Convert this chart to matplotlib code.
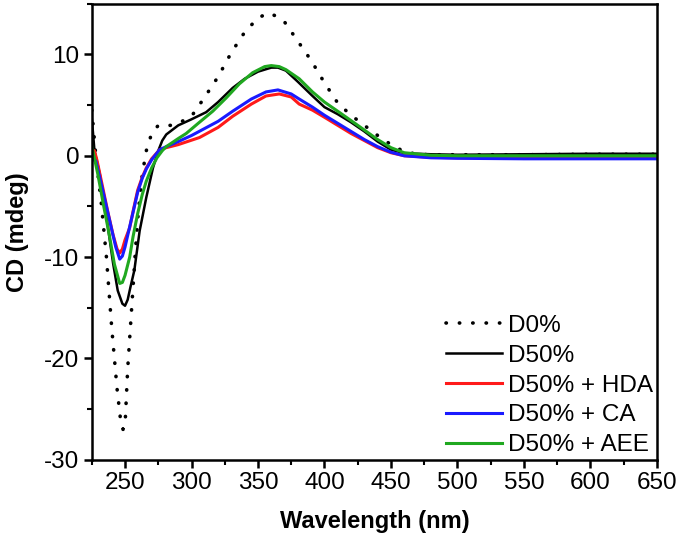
import matplotlib
matplotlib.use("Agg")
import matplotlib.pyplot as plt
from matplotlib.ticker import MultipleLocator

plt.rcParams['font.family'] = ['Liberation Sans', 'DejaVu Sans']
plt.rcParams['axes.unicode_minus'] = False

# D0% (dotted)
wl_d0 = [225, 228, 232, 236, 240, 244, 247, 248.5, 250, 252, 254, 256, 258, 260, 263, 266, 270, 275,
         280, 285, 290, 300, 310, 320, 330, 340, 350, 358, 365, 370, 380, 390, 400, 410, 420, 430,
         440, 450, 460, 470, 480, 500, 550, 600, 650]
cd_d0 = [4.5, 0.0, -4.5, -10.0, -17.0, -23.0, -26.5, -27.0, -26.6, -21.0, -17.0, -13.0, -9.0, -5.5,
         -1.8, 0.5, 2.2, 3.0, 3.0, 3.0, 3.2, 3.9, 5.8, 7.8, 10.2, 12.2, 13.6, 14.1, 13.7, 13.2, 11.3,
         9.4, 7.2, 5.2, 4.0, 3.0, 2.0, 1.1, 0.4, 0.15, 0.1, 0.1, 0.1, 0.15, 0.15]

# D50%
wl_d50 = [225, 227, 231, 236, 241, 244.5, 248, 250, 252, 254, 257, 261, 266, 271, 275, 278, 281, 290,
          300, 311, 320, 331, 340, 350, 360, 365, 371, 380, 391, 400, 410, 420, 430, 440, 450, 460,
          480, 500, 550, 600, 650]
cd_d50 = [3.7, 0.5, -1.8, -6.0, -10.6, -13.3, -14.6, -14.8, -14.2, -13.0, -11.3, -7.4, -4.1, -1.2,
          0.5, 1.5, 2.1, 3.0, 3.6, 4.3, 5.3, 6.7, 7.6, 8.3, 8.7, 8.7, 8.4, 7.3, 5.9, 4.8, 4.1, 3.3,
          2.4, 1.4, 0.6, 0.25, 0.15, 0.1, 0.15, 0.2, 0.2]

# D50% + HDA
wl_hda = [225, 227, 229, 233, 237, 241, 244, 246, 248, 250, 253.5, 256, 259.5, 263, 266, 270, 276,
          281, 290, 306, 320, 331, 345, 356, 366, 375, 381, 391, 400, 410, 420, 430, 440, 450, 460,
          480, 500, 550, 600, 650]
cd_hda = [0.3, 0.5, -0.5, -3.0, -5.5, -7.8, -9.2, -9.6, -9.2, -8.3, -7.1, -5.5, -3.4, -2.1, -1.2,
          -0.3, 0.6, 0.8, 1.1, 1.8, 2.8, 3.9, 5.1, 5.9, 6.1, 5.8, 5.1, 4.5, 3.8, 3.0, 2.2, 1.5, 0.8,
          0.3, 0.0, -0.15, -0.2, -0.2, -0.2, -0.2]

# D50% + CA
wl_ca = [225, 228, 232, 236, 240, 243, 246, 248, 250, 253.5, 256, 259.5, 263, 266, 270, 276, 281,
         290, 300, 310, 320, 331, 345, 356, 365, 375, 381, 391, 400, 410, 420, 430, 440, 450, 460,
         480, 500, 550, 600, 650]
cd_ca = [-0.3, -0.5, -2.7, -5.0, -7.3, -9.0, -10.2, -9.9, -9.0, -7.0, -5.6, -3.6, -2.2, -1.3, -0.4,
         0.6, 0.9, 1.4, 2.0, 2.7, 3.4, 4.4, 5.6, 6.3, 6.5, 6.1, 5.6, 4.8, 4.0, 3.2, 2.4, 1.6, 0.9,
         0.35, 0.0, -0.2, -0.25, -0.3, -0.3, -0.3]

# D50% + AEE
wl_aee = [225, 229.5, 234, 238, 242, 246, 248, 250, 253.5, 256, 259.5, 263, 266, 270, 274, 278, 281,
          290, 296, 305, 316, 326, 336, 346, 355, 360, 366, 371, 381, 391, 400, 411, 424, 440, 450,
          460, 480, 500, 550, 600, 650]
cd_aee = [1.0, -1.8, -5.0, -7.7, -10.7, -12.6, -12.5, -11.8, -10.0, -8.0, -5.7, -3.8, -2.5, -1.2,
          -0.2, 0.5, 0.9, 1.7, 2.2, 3.2, 4.4, 5.7, 7.1, 8.2, 8.8, 8.9, 8.8, 8.5, 7.6, 6.3, 5.3, 4.3,
          3.1, 1.6, 0.8, 0.3, 0.05, 0.0, 0.0, 0.0, 0.0]

labels = ["D0%", "D50%", "D50% + HDA", "D50% + CA", "D50% + AEE"]
x_ticks = [250, 300, 350, 400, 450, 500, 550, 600, 650]
y_ticks = [-30, -20, -10, 0, 10]

fig = plt.figure(figsize=(6.8, 5.39), dpi=100)
ax = fig.add_axes([0.135, 0.147, 0.831, 0.846])

ax.plot(wl_d0, cd_d0, color='black', lw=2.6, linestyle=(0, (0.1, 3.6)),
        dash_capstyle='round', label=labels[0])
ax.plot(wl_d50, cd_d50, color='black', lw=1.8, label=labels[1])
ax.plot(wl_hda, cd_hda, color='#ff1a1a', lw=2.2, label=labels[2])
ax.plot(wl_ca, cd_ca, color='#1a1aff', lw=2.2, label=labels[3])
ax.plot(wl_aee, cd_aee, color='#20a820', lw=2.2, label=labels[4])

ax.set_xlim(225, 650)
ax.set_ylim(-30, 15)
ax.set_xticks(x_ticks)
ax.set_yticks(y_ticks)
ax.xaxis.set_minor_locator(MultipleLocator(25))
ax.yaxis.set_minor_locator(MultipleLocator(5))
ax.tick_params(which='major', direction='out', length=6, width=1.8, labelsize=17.5, pad=3)
ax.tick_params(which='minor', direction='out', length=3.5, width=1.5)
for s in ax.spines.values():
    s.set_linewidth(1.8)

ax.set_xlabel("Wavelength (nm)", fontsize=17, fontweight='bold', labelpad=11)
ax.set_ylabel("CD (mdeg)", fontsize=17, fontweight='bold', labelpad=11)

ax.legend(loc='lower right', frameon=False, fontsize=17.5, handlelength=2.3,
          handletextpad=0.25, labelspacing=0.32, borderaxespad=0.0, borderpad=0.15)

fig.savefig("out.png", dpi=100)
